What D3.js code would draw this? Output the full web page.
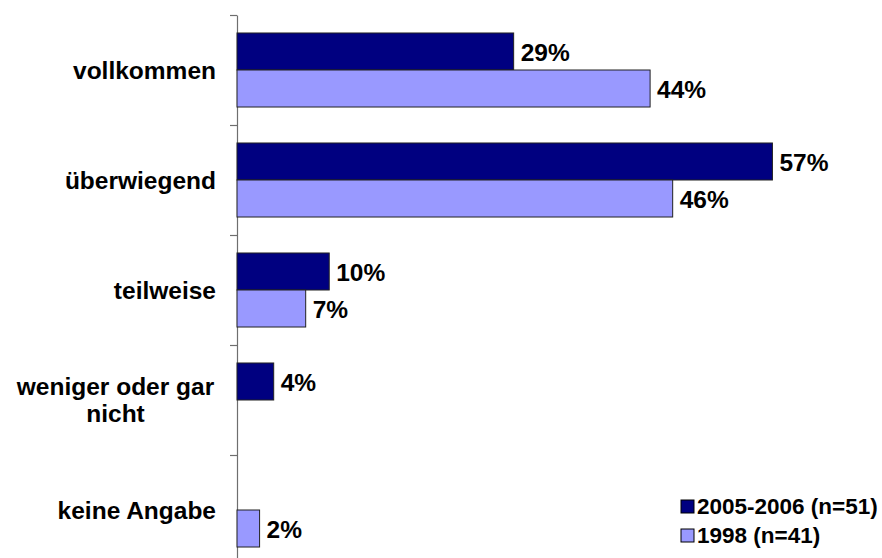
<!DOCTYPE html>
<html>
<head>
<meta charset="utf-8">
<script src="https://cdn.jsdelivr.net/npm/d3@7"></script>
<style>
  body { margin: 0; background: #fff; }
  text { font-family: "Liberation Sans", Arial, sans-serif; font-weight: bold; fill: #000; }
</style>
</head>
<body>
<div id="chart-area"></div>
<script>
// data (bar lengths; labels show rounded percentages)
var categories = ["vollkommen", "überwiegend", "teilweise", "weniger oder gar nicht", "keine Angabe"];
var categoryLines = [["vollkommen"], ["überwiegend"], ["teilweise"], ["weniger oder gar", "nicht"], ["keine Angabe"]];
var seriesNames = ["2005-2006 (n=51)", "1998 (n=41)"];
var values2005 = [29.4, 56.9, 9.8, 3.9, 0];
var values1998 = [43.9, 46.3, 7.3, 0, 2.4];
var colors = ["#000080", "#9999ff"];

var width = 882, height = 558;
var plotLeft = 237, plotTop = 15, plotBottom = 565;
var fmt = function (v) { return Math.round(v) + "%"; };

var svg = d3.select("#chart-area")
    .append("svg")
    .attr("width", width)
    .attr("height", height);

// scales
var x = d3.scaleLinear()
    .domain([0, 60])
    .range([plotLeft, plotLeft + 60 * 9.41]);

var y = d3.scaleBand()
    .domain(categories)
    .range([plotTop, plotBottom]);

var ySub = d3.scaleBand()
    .domain(seriesNames)
    .range([0, y.bandwidth()])
    .paddingOuter(0.486);

// axis with ticks between categories
var yTicks = d3.scaleLinear()
    .domain([0, categories.length])
    .range([plotTop, plotBottom]);

var axis = svg.append("g")
    .attr("class", "y axis")
    .attr("transform", "translate(" + plotLeft + ",0)")
    .call(d3.axisLeft(yTicks)
        .tickValues(d3.range(0, categories.length + 1))
        .tickFormat("")
        .tickSize(7)
        .tickSizeOuter(0));
axis.selectAll("path, line").attr("stroke", "#6e6e6e").attr("stroke-width", 1.2);

// category labels
categories.forEach(function (c, i) {
    var lines = categoryLines[i];
    var cy = y(c) + y.bandwidth() / 2;
    var lh = 27;
    var t = svg.append("text")
        .attr("font-size", "24.5px");
    if (lines.length == 1) {
        t.attr("text-anchor", "end")
            .attr("x", 216)
            .attr("y", cy)
            .attr("dy", "0.35em")
            .text(lines[0]);
    } else {
        t.attr("text-anchor", "middle");
        lines.forEach(function (l, j) {
            t.append("tspan")
                .attr("x", 115.5)
                .attr("y", cy - lh * (lines.length - 1) / 2 + j * lh)
                .attr("dy", "0.35em")
                .text(l);
        });
    }
});

// bars
var allSeries = [values2005, values1998];
allSeries.forEach(function (vals, s) {
    var rows = categories.map(function (c, i) { return {cat: c, v: vals[i]}; })
        .filter(function (d) { return d.v > 0; });

    svg.append("g").selectAll("rect")
        .data(rows)
        .enter()
        .append("rect")
        .attr("x", x(0))
        .attr("y", function (d) { return y(d.cat) + ySub(seriesNames[s]); })
        .attr("width", function (d) { return x(d.v) - x(0); })
        .attr("height", ySub.bandwidth())
        .attr("fill", colors[s])
        .attr("stroke", "#222")
        .attr("stroke-width", 1);

    svg.append("g").selectAll("text")
        .data(rows)
        .enter()
        .append("text")
        .attr("x", function (d) { return x(d.v) + 7; })
        .attr("y", function (d) { return y(d.cat) + ySub(seriesNames[s]) + ySub.bandwidth() / 2; })
        .attr("dy", "0.4em")
        .attr("font-size", "24.5px")
        .text(function (d) { return fmt(d.v); });
});

// legend
var legend = svg.append("g").attr("class", "legend");
seriesNames.forEach(function (n, i) {
    legend.append("rect")
        .attr("x", 681)
        .attr("y", 500 + i * 29)
        .attr("width", 13)
        .attr("height", 13)
        .attr("fill", colors[i])
        .attr("stroke", "#000")
        .attr("stroke-width", 1);
    legend.append("text")
        .attr("x", 697)
        .attr("y", 514 + i * 29)
        .attr("font-size", "22.5px")
        .text(n);
});
</script>
</body>
</html>
